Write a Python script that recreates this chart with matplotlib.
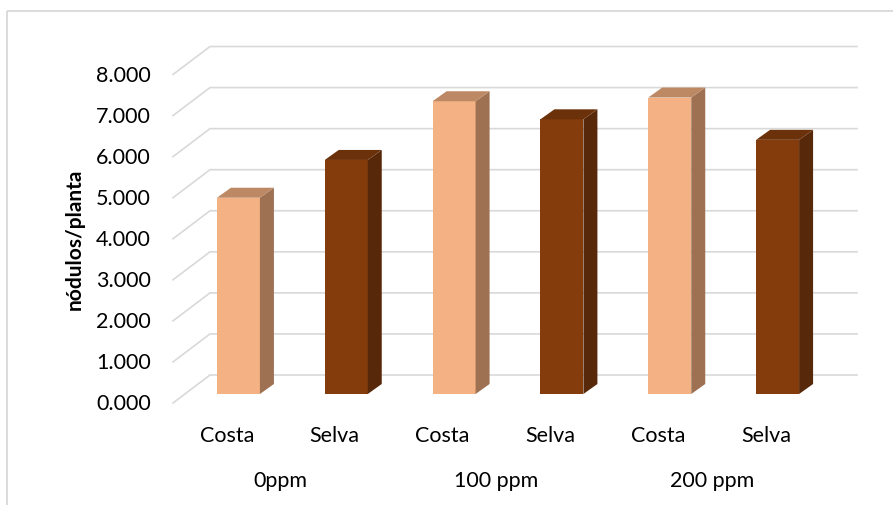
import matplotlib.pyplot as plt
from matplotlib.patches import Polygon
from matplotlib.lines import Line2D

plt.rcParams['font.family'] = ['Lato', 'DejaVu Sans']

# data
doses = ['0ppm', '100 ppm', '200 ppm']
origins = ['Costa', 'Selva']
costa = [4.78, 7.13, 7.22]
selva = [5.70, 6.69, 6.19]
yticks = [0, 1, 2, 3, 4, 5, 6, 7, 8]
ylabel = 'nódulos/planta'

# face colours: front, side, top
colors = {
    'Costa': ('#F4B183', '#9D7152', '#BD8964'),
    'Selva': ('#843C0C', '#58280A', '#6B310B'),
}
grid_color = '#D9D9D9'

# pseudo-3D geometry (x in pixels, y in data units)
PX = 41.06                 # pixels per unit on the value axis
x0, x1 = 173, 820          # front edge of the floor
slot = (x1 - x0) / 6
wall_dx, wall_dy = 37, 28 / PX
bar_w = 43
bar_dx, bar_dy = 14, 10 / PX
front_off = 9 / PX         # bar front face sits behind the front edge

fig = plt.figure(figsize=(8.93, 5.06), dpi=100)
ax = fig.add_axes([0, 0, 1, 1])
ax.set_xlim(0, 893)
ax.set_ylim(-111 / PX, 395 / PX)
ax.axis('off')

# chart border (top and left edges visible)
ax.plot([7, 893], [383 / PX, 383 / PX], color=grid_color, lw=1.3,
        solid_capstyle='butt')
ax.plot([7, 7], [383 / PX, -111 / PX], color=grid_color, lw=1.3,
        solid_capstyle='butt')

# gridlines: side wall diagonal + back wall horizontal
for v in yticks:
    yf = v - front_off
    yb = yf + wall_dy
    ax.plot([x0, x0 + wall_dx, x1 + wall_dx], [yf, yb, yb],
            color=grid_color, lw=1.2, zorder=1)
    ax.text(151, yf, f'{v:.3f}', ha='right', va='center', fontsize=15.5,
            color='black')

ax.text(75, 3.8, ylabel, rotation=90, ha='center', va='center',
        fontsize=15, fontweight='bold')

# bars
series = {'Costa': costa, 'Selva': selva}
for g, dose in enumerate(doses):
    for k, name in enumerate(origins):
        i = g * 2 + k
        val = series[name][g]
        cx = x0 + (i + 0.5) * slot
        left = cx - bar_w / 2 + 11.5
        right = left + bar_w
        front, side, top = colors[name]
        ax.add_patch(Polygon([(left, 0), (right, 0), (right, val), (left, val)],
                             closed=True, fc=front, ec='none', zorder=3))
        ax.add_patch(Polygon([(right, 0), (right + bar_dx, bar_dy),
                              (right + bar_dx, val + bar_dy), (right, val)],
                             closed=True, fc=side, ec='none', zorder=3))
        ax.add_patch(Polygon([(left, val), (right, val),
                              (right + bar_dx, val + bar_dy),
                              (left + bar_dx, val + bar_dy)],
                             closed=True, fc=top, ec='none', zorder=3))
        ax.text(cx, -41 / PX, name, ha='center', va='center', fontsize=15.5)
    ax.text(x0 + (2 * g + 1) * slot, -86 / PX, dose, ha='center', va='center',
            fontsize=15.5)

fig.savefig('out.png', dpi=100)
